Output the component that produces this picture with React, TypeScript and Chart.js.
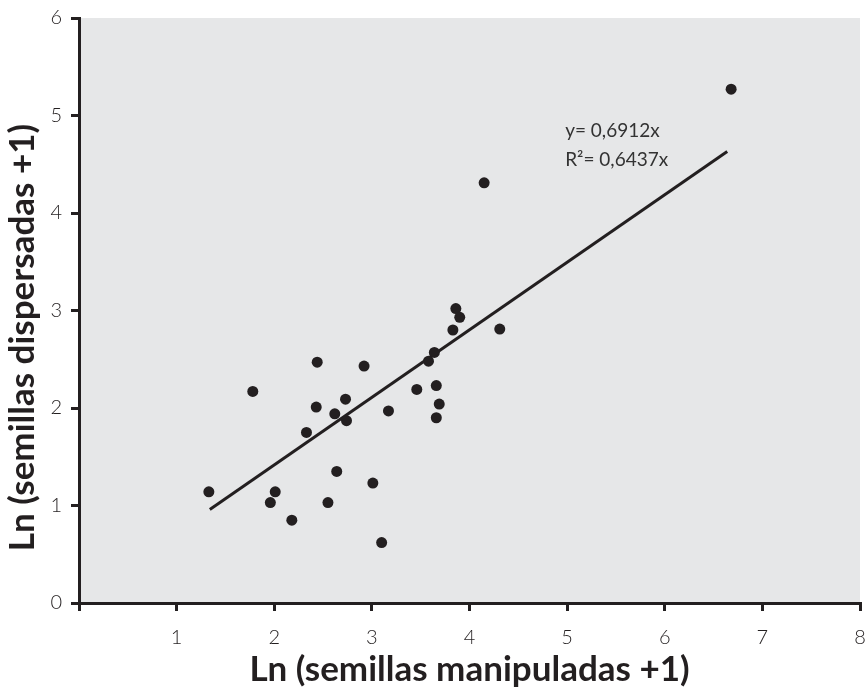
import React, { useEffect, useRef } from "react";
import { Chart, registerables } from "chart.js";

Chart.register(...registerables);

const xValues = [1.33, 1.78, 1.96, 2.01, 2.18, 2.33, 2.43, 2.44, 2.55, 2.62, 2.64, 2.73, 2.74, 2.92, 3.01, 3.10, 3.17, 3.46, 3.58, 3.64, 3.66, 3.66, 3.69, 3.83, 3.86, 3.90, 4.15, 4.31, 6.68];
const yValues = [1.14, 2.17, 1.03, 1.14, 0.85, 1.75, 2.01, 2.47, 1.03, 1.94, 1.35, 2.09, 1.87, 2.43, 1.23, 0.62, 1.97, 2.19, 2.48, 2.57, 2.23, 1.90, 2.04, 2.80, 3.02, 2.93, 4.31, 2.81, 5.27];
const trendX = [1.34, 6.64];
const trendY = [0.96, 4.63];
const xTickLabels = ["", "1", "2", "3", "4", "5", "6", "7", "8"];
const yTickLabels = ["0", "1", "2", "3", "4", "5", "6"];
const equationLines = ["y= 0,6912x", "R\u00b2= 0,6437x"];
const equationAnchor = { x: 4.98, y: [4.84, 4.54] };
const xTitle = "Ln (semillas manipuladas +1)";
const yTitle = "Ln (semillas dispersadas +1)";

const INK = "#231f20";
const FONT = "Lato";

export default function App() {
  const ref = useRef<HTMLCanvasElement | null>(null);
  useEffect(() => {
    if (!ref.current) return;
    const bgPlugin = {
      id: "bgArea",
      beforeDraw(chart: any) {
        const { ctx, chartArea } = chart;
        ctx.save();
        ctx.fillStyle = "#e6e7e8";
        ctx.fillRect(chartArea.left, chartArea.top, chartArea.right - chartArea.left, chartArea.bottom - chartArea.top);
        ctx.restore();
      },
      afterDraw(chart: any) {
        const { ctx, chartArea } = chart;
        const xs = chart.scales.x;
        const ys = chart.scales.y;
        ctx.save();
        ctx.fillStyle = "#333333";
        ctx.font = `19px ${FONT}`;
        ctx.textAlign = "left";
        ctx.textBaseline = "middle";
        equationLines.forEach((t, i) => {
          ctx.fillText(t, xs.getPixelForValue(equationAnchor.x), ys.getPixelForValue(equationAnchor.y[i]));
        });
        ctx.restore();
        // y axis title
        ctx.save();
        ctx.fillStyle = INK;
        ctx.font = `bold 35px ${FONT}`;
        ctx.textAlign = "center";
        ctx.textBaseline = "middle";
        ctx.translate(23, (chartArea.top + chartArea.bottom) / 2 + 27);
        ctx.rotate(-Math.PI / 2);
        ctx.fillText(yTitle, 0, 0);
        ctx.restore();
      },
    };
    const chart = new Chart(ref.current, {
      type: "scatter",
      data: {
        datasets: [
          {
            data: xValues.map((x, i) => ({ x, y: yValues[i] })),
            backgroundColor: INK,
            borderColor: INK,
            pointRadius: 5.5,
            pointBorderWidth: 0,
            order: 1,
          },
          {
            type: "line",
            data: trendX.map((x, i) => ({ x, y: trendY[i] })),
            borderColor: INK,
            borderWidth: 3,
            pointRadius: 0,
            showLine: true,
            fill: false,
            order: 2,
          } as any,
        ],
      },
      plugins: [bgPlugin],
      options: {
        animation: false,
        responsive: false,
        maintainAspectRatio: false,
        layout: { padding: { top: 18, right: 8, left: 0, bottom: 0 } },
        plugins: { legend: { display: false }, tooltip: { enabled: false } },
        scales: {
          x: {
            type: "linear",
            min: 0,
            max: 8,
            afterFit(scale: any) {
              scale.height = 88;
              scale.paddingLeft = 0;
              scale.paddingRight = 0;
            },
            border: { color: INK, width: 3 },
            grid: { drawOnChartArea: false, drawTicks: true, tickLength: 8, tickColor: INK, lineWidth: 3 },
            ticks: {
              stepSize: 1,
              padding: 15,
              color: INK,
              font: { family: FONT, size: 20, weight: "300" },
              callback: (v: any) => xTickLabels[Math.round(Number(v))] ?? "",
            },
            title: {
              display: true,
              text: xTitle,
              color: INK,
              font: { family: FONT, size: 35, weight: "bold" },
              padding: { top: 0, bottom: 0 },
            },
          },
          y: {
            type: "linear",
            min: 0,
            max: 6,
            afterFit(scale: any) {
              scale.width = 79;
              scale.paddingTop = 0;
              scale.paddingBottom = 0;
            },
            border: { color: INK, width: 3 },
            grid: { drawOnChartArea: false, drawTicks: true, tickLength: 8, tickColor: INK, lineWidth: 3 },
            ticks: {
              stepSize: 1,
              padding: 9,
              color: INK,
              font: { family: FONT, size: 20, weight: "300" },
              callback: (v: any) => yTickLabels[Math.round(Number(v))] ?? "",
            },
            title: { display: false },
          },
        },
      },
    });
    return () => chart.destroy();
  }, []);
  return (
    <div style={{ position: "fixed", left: 0, top: 0, width: 868, height: 691, background: "#fff" }}>
      <canvas ref={ref} width={868} height={691} style={{ width: 868, height: 691, display: "block" }} />
    </div>
  );
}
